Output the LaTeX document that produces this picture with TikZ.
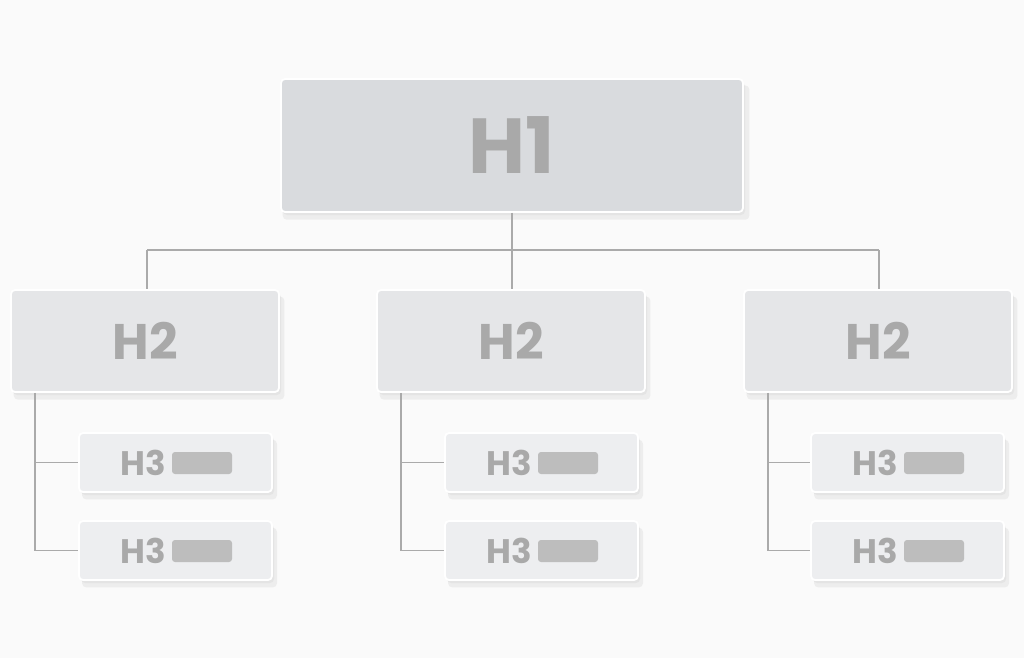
\documentclass[tikz,border=0pt]{standalone}
\usepackage{fontspec}
\setmainfont{Poppins}
\usetikzlibrary{shadows}
\definecolor{bgc}{HTML}{FAFAFA}
\definecolor{hone}{HTML}{D9DBDE}
\definecolor{htwo}{HTML}{E5E6E8}
\definecolor{hthree}{HTML}{EDEEF0}
\definecolor{txt}{HTML}{A9A9A9}
\definecolor{barc}{HTML}{BDBDBD}
\definecolor{linec}{HTML}{AAAAAA}
\tikzset{
  card/.style={draw=white, line width=1.8pt, rounded corners=4pt,
    general shadow={fill=black, opacity=0.05, shadow xshift=4pt, shadow yshift=-7pt, shadow scale=1.01},
    drop shadow={opacity=0.08, shadow xshift=2pt, shadow yshift=-3pt},
    inner sep=0pt, text=txt},
  honebox/.style={card, fill=hone, minimum width=462pt, minimum height=133pt, font=\fontsize{78}{78}\selectfont\bfseries},
  htwobox/.style={card, fill=htwo, minimum width=268pt, minimum height=102pt, font=\fontsize{50}{50}\selectfont\bfseries},
  hthreebox/.style={card, fill=hthree, minimum width=193pt, minimum height=59pt},
  htxt/.style={text=txt, inner sep=0pt, font=\fontsize{34}{34}\selectfont\bfseries},
  barbox/.style={fill=barc, rounded corners=3pt, minimum width=60pt, minimum height=22pt, inner sep=0pt},
  conn/.style={draw=linec, line width=1.5pt},
}
\begin{document}
\begin{tikzpicture}[x=1pt,y=-1pt]
\fill[bgc] (0,0) rectangle (1024,658);
\useasboundingbox (0,0) rectangle (1024,658);

\node[honebox] (h1) at (512,145.5) {H1};
\coordinate (hub) at (512,250);

\foreach \n/\cx in {a/145, b/511, c/878}{
  \node[htwobox] (h2\n) at (\cx,341) {H2};
}
\coordinate (ja) at (147,250);
\coordinate (jc) at (879,250);

\foreach \n/\lx in {a/79, b/445, c/811}{
  \node[hthreebox] (h3\n1) at (\lx+96.5,462.5) {};
  \node[hthreebox] (h3\n2) at (\lx+96.5,550.5) {};
  \node[htxt] (t\n1) at (\lx+64,463) {H3};
  \node[htxt] (t\n2) at (\lx+64,551) {H3};
  \node[barbox] (b\n1) at (\lx+123,463) {};
  \node[barbox] (b\n2) at (\lx+123,551) {};
}

% connectors
\draw[conn] (h1.south) -- (hub);
\draw[conn] (ja) -- (jc);
\draw[conn] (ja) -- (ja |- h2a.north);
\draw[conn] (hub) -- (hub |- h2b.north);
\draw[conn] (jc) -- (jc |- h2c.north);

\foreach \n/\vx in {a/35, b/401, c/768}{
  \coordinate (v\n) at (\vx,392);
  \draw[conn] (v\n |- h2\n.south) -- (v\n |- h3\n2.west) -- (h3\n2.west);
  \draw[conn] (v\n |- h3\n1.west) -- (h3\n1.west);
}
\end{tikzpicture}
\end{document}
